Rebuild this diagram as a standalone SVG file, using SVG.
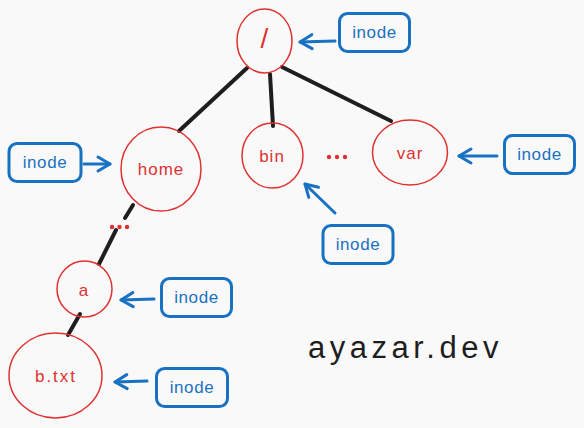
<svg xmlns="http://www.w3.org/2000/svg" width="584" height="428" viewBox="0 0 584 428">
<defs>
<marker id="ah" markerUnits="userSpaceOnUse" markerWidth="20" markerHeight="20" viewBox="-14 -10 16 20" refX="0" refY="0" orient="auto" overflow="visible">
<path d="M -12 -7 L 0 0 L -12 7" fill="none" stroke="#1971c2" stroke-width="3" stroke-linecap="round" stroke-linejoin="round"/>
</marker>
</defs>
<style>
.node{fill:none;stroke:#e03131;stroke-width:1.5}
.ntext{fill:#e03131;font-family:"Liberation Sans",Arial,sans-serif;font-size:17px;text-anchor:middle;dominant-baseline:central;letter-spacing:1px}
.box{fill:none;stroke:#1971c2;stroke-width:3}
.btext{fill:#1971c2;font-family:"Liberation Sans",Arial,sans-serif;font-size:17px;text-anchor:middle;dominant-baseline:central;letter-spacing:0.6px}
.edge{stroke:#1e1e1e;stroke-width:4;stroke-linecap:round;fill:none}
.arrow{stroke:#1971c2;stroke-width:3;stroke-linecap:round;fill:none;marker-end:url(#ah)}
.dots{fill:#e03131}
</style>
<rect width="584" height="428" fill="#f9f9f9"/>
<g id="connectors">
<line class="edge" x1="247" y1="68" x2="179" y2="131"/>
<line class="edge" x1="270" y1="74" x2="273" y2="126"/>
<line class="edge" x1="282" y1="67" x2="391" y2="121"/>
<line class="edge" x1="133" y1="205" x2="125" y2="218"/>
<line class="edge" x1="116" y1="230" x2="99" y2="264"/>
<line class="edge" x1="80" y1="314" x2="68" y2="335"/>
<line class="arrow" x1="335" y1="41" x2="300" y2="42"/>
<line class="arrow" x1="84" y1="164" x2="110" y2="164"/>
<line class="arrow" x1="497" y1="156" x2="459" y2="156"/>
<line class="arrow" x1="335" y1="213" x2="305" y2="184"/>
<line class="arrow" x1="154" y1="299" x2="121" y2="300"/>
<line class="arrow" x1="147" y1="381" x2="115" y2="382"/>
</g>
<g id="dots-home-a">
<circle class="dots" cx="112" cy="227" r="2.2"/>
<circle class="dots" cx="119.5" cy="227" r="2.2"/>
<circle class="dots" cx="127" cy="227" r="2.2"/>
</g>
<g id="dots-bin-var">
<circle class="dots" cx="329" cy="157" r="2.2"/>
<circle class="dots" cx="337" cy="157" r="2.2"/>
<circle class="dots" cx="345" cy="157" r="2.2"/>
</g>
<g id="node-root">
<ellipse class="node" cx="264.5" cy="41" rx="27.5" ry="32"/>
<text class="ntext" x="265" y="38" style="font-size:28px">/</text>
</g>
<g id="node-home">
<ellipse class="node" cx="161" cy="169" rx="40" ry="42"/>
<text class="ntext" x="161" y="169">home</text>
</g>
<g id="node-bin">
<ellipse class="node" cx="272.5" cy="155.5" rx="30.5" ry="32.5"/>
<text class="ntext" x="272" y="156">bin</text>
</g>
<g id="node-var">
<ellipse class="node" cx="410" cy="152.5" rx="37.5" ry="32.5"/>
<text class="ntext" x="410" y="153">var</text>
</g>
<g id="node-a">
<ellipse class="node" cx="84.5" cy="289" rx="27.5" ry="28"/>
<text class="ntext" x="84" y="290">a</text>
</g>
<g id="node-btxt">
<ellipse class="node" cx="55.5" cy="375.5" rx="46.5" ry="42.5"/>
<text class="ntext" x="56" y="376" style="letter-spacing:2px">b.txt</text>
</g>
<g id="inode-root">
<rect class="box" x="339.5" y="13.5" width="70" height="38" rx="8"/>
<text class="btext" x="374.5" y="32">inode</text>
</g>
<g id="inode-home">
<rect class="box" x="9" y="143.5" width="72" height="38" rx="8"/>
<text class="btext" x="45" y="162">inode</text>
</g>
<g id="inode-var">
<rect class="box" x="504.5" y="135.5" width="70" height="38" rx="8"/>
<text class="btext" x="539.5" y="154">inode</text>
</g>
<g id="inode-bin">
<rect class="box" x="323" y="225.5" width="70" height="38" rx="8"/>
<text class="btext" x="358" y="244">inode</text>
</g>
<g id="inode-a">
<rect class="box" x="161.5" y="278.5" width="70" height="38" rx="8"/>
<text class="btext" x="196.5" y="297">inode</text>
</g>
<g id="inode-btxt">
<rect class="box" x="156.5" y="368.5" width="71" height="38" rx="8"/>
<text class="btext" x="192" y="387">inode</text>
</g>
<g id="watermark">
<text x="308" y="358" fill="#1e1e1e" font-family="'Liberation Sans',Arial,sans-serif" font-size="31px" letter-spacing="4.5px">ayazar.dev</text>
</g>
</svg>
